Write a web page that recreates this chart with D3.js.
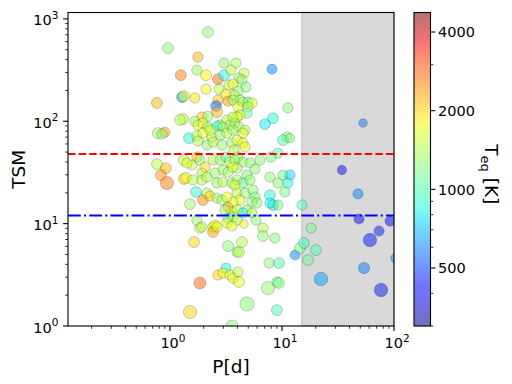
<!DOCTYPE html>
<html lang="en">
<head>
  <meta charset="UTF-8">
  <title>TSM vs period</title>
  <script src="https://d3js.org/d3.v7.min.js"></script>
  <style>
    body { margin: 0; padding: 0; background: #fff; }
    svg text { font-family: "DejaVu Sans", sans-serif; fill: #000; }
  </style>
</head>
<body>
  <svg id="chart" width="512" height="384"></svg>

  <script>
    // Data
    const period = [
      0.96,1.25,0.765,1.28,1.33,1.67,1.78,1.74,1.31,1.23,
      0.78,0.90,0.85,1.48,0.765,0.92,0.83,0.94,1.33,1.39,
      1.6,1.57,1.33,1.42,1.71,1.51,1.74,1.85,1.64,1.85,
      1.51,2.18,2.1,2.68,3.04,3.04,3.88,3.5,4.58,4.13,
      4.39,4.77,8.14,11.3,8.31,7.05,2.1,2.74,3.36,3.65,
      4.05,3.73,3.16,2.68,2.58,3.3,3.65,4.22,4.49,4.97,
      5.4,4.05,4.97,4.87,4.22,3.97,2.63,1.93,2.18,1.67,
      1.78,2.8,3.23,3.43,2.63,1.97,2.18,2.97,3.8,3.65,
      4.13,4.67,4.49,11.1,10.2,11.8,1.74,1.97,2.37,2.8,
      3.23,2.28,3.65,1.78,2.14,2.42,2.91,3.58,3.97,4.49,
      4.67,3.73,4.05,4.49,1.74,1.85,2.05,2.42,2.8,3.16,
      3.43,3.8,2.97,2.52,3.3,3.97,3.65,4.87,1.93,1.93,
      2.14,2.63,2.97,3.58,3.97,4.49,3.8,3.97,4.67,4.22,
      3.65,1.97,2.14,2.28,2.63,2.91,3.23,3.3,3.58,3.97,
      3.1,1.93,2.42,3.65,3.3,7.98,9.21,6.36,5.18,5.18,
      5.51,5.74,5.4,7.81,9.21,10.2,11.8,11.3,10.6,7.81,
      8.31,9.21,7.81,15.1,4.87,4.49,5.4,5.74,5.98,2.52,
      3.23,3.97,2.42,2.63,3.58,4.58,5.86,6.77,6.77,8.66,
      3.3,4.39,3.97,4.13,13.1,14.5,15.7,17.1,7.66,9.4,
      3.16,2.68,2.97,3.43,3.65,4.05,4.13,7.5,9.02,9.4,
      4.87,9.02,3.58,52.9,34.3,47.7,48.7,92.1,18.2,20.1,
      61,73.5,104,54,22.3,76.6
    ];
    const tsm = [
      519,282,151,172,176,169,424,316,105,103,
      76.7,78,75,68.5,38.2,34.9,29.8,24.9,27.3,27.9,
      26.7,37.4,41.8,39.1,20.4,15.5,10.8,9.06,6.61,2.63,
      1.37,743,282,258,282,370,370,316,296,264,
      253,216,323,135,107,93.9,206,206,226,231,
      197,180,184,161,141,157,161,161,154,154,
      151,138,138,120,115,110,123,110,112,100,
      91.8,91.8,103,91.8,89.8,96,87.8,87.8,96,110,
      87.8,82,76.7,70.1,65.5,68.5,71.7,76.7,70.1,73.3,
      76.7,82,82,64.1,58.6,62.6,58.6,61.2,65.5,61.2,
      56,52.3,44.7,40,44.7,41.8,35.7,41.8,41.8,44.7,
      40,41.8,33.4,31.2,31.9,34.9,35.7,29.8,31.2,26.7,
      28.5,24.9,25.5,24.9,26.7,24.9,23.8,19.9,19.9,17,
      16.3,17,19.9,18.6,17.8,17,18.2,14.5,13,13.6,
      13.6,9.27,9.27,11.6,11.3,44.7,48.9,41.8,39.1,26.7,
      21.3,18.2,16.3,28.5,24.9,29.8,29.8,24.9,20.4,19,
      15.2,15.2,15.9,15.2,13.6,12.7,12.7,34.1,15.9,9.69,
      10.1,10.8,8.28,9.27,9.48,9.91,10.8,9.06,7.57,7.23,
      6.04,6.61,5.28,5.28,4.94,5.78,6.47,4.41,4.12,4.12,
      3.68,3.15,3.29,3.15,2.94,3.37,2.69,2.35,2.69,2.63,
      1.64,1.43,1.0,96,33.4,19.5,11.1,10.6,9.06,5.52,
      6.92,8.47,4.61,3.68,2.88,2.25
    ];
    const teq = [
      1200,2600,2200,650,1700,1900,2200,1300,1450,1450,
      1300,2300,1250,850,1450,2200,2400,2600,2000,1750,
      1450,1450,1450,1700,900,1300,1300,1450,2000,2800,
      2000,1250,1800,2700,850,1250,1400,1500,1500,1300,
      1300,1200,600,1250,850,800,1800,1500,1450,1700,
      1300,1450,1900,2100,550,2300,1300,1300,1450,1000,
      1700,1700,1450,1100,1700,1700,2200,2100,1250,1250,
      1700,1300,1450,1450,850,1700,1250,1300,1300,1450,
      1450,1300,1700,1200,1000,1250,1450,1700,1450,1300,
      1450,1700,1300,1450,1250,1450,1300,1300,1700,1700,
      1700,1450,1300,1300,2200,1300,1900,1450,1300,1050,
      1450,1300,1300,1300,1300,1300,1700,1250,1450,1450,
      1450,1300,1450,1300,1300,1100,1700,1450,1300,1700,
      1700,2500,1450,2000,1300,1300,1700,2300,1750,1450,
      1300,1450,1700,1300,1050,1150,1050,1250,1250,1250,
      1250,1200,1250,1250,1250,1150,750,850,1150,850,
      750,1150,850,950,1250,850,1450,1250,1250,1700,
      1700,1450,2300,1700,1700,1700,1250,1450,1250,1200,
      1250,1450,1300,1450,600,1150,950,1100,1250,1000,
      850,2000,1750,1700,1700,1450,1700,1250,1000,1250,
      1200,1000,1250,600,420,600,420,430,1150,1000,
      450,450,600,600,650,450
    ];
    const rp = [
      2.3,2.3,2.3,2.3,2.3,2,2,2,2.3,2.3,
      2.3,2,2,2.3,2.3,2.3,2.3,3.3,2.3,2.3,
      2,2,2.3,2,2.3,2.3,2,2,2.3,2.8,
      3.3,2.3,2.3,2.3,2.3,2,2,2,2,2,
      2,2,2,2,2.3,2.3,2,2,2,2,
      2,2,2,2,2.3,2,2,2,2,2,
      2,2,2,2,2,2,2.3,2,2,2,
      2,2,2,2,2,2,2,2,2,2,
      2,2,2,2,2.3,1.6,2,2,2,2,
      2,2,2,2,2,2,2,2,2,2,
      2,2,2,2,2,2,2,2,2,2,
      2,2,2,2,2,2,2,2,2,2,
      2,2,2,2,2,2,2,2,2,2,
      2,2.3,2,2,2,2,2,2,2,2,
      2,2,2,2,2,2,2,2,2,2,
      2,2,2,2,2,2,2,2,2,2.3,
      2.3,2,2,2,2,2,2,2,2,2,
      2,2,2.3,2,2,1.2,2,2,2.3,2,
      2.3,2.3,2,2.3,2,2.3,2.3,2.3,2,2.3,
      2,2,2,2,2,2,2.3,3.3,2,2.3,
      3.8,2.3,2.8,1.2,1.6,2,2,2,2,2.3,
      3.5,2,2,2.5,3.5,3.5
    ];
    const xMajor = [1, 10, 100];
    const yMajor = [1, 10, 100, 1000];
    const cbarMajor = [500, 1000, 2000, 4000];
    const tsmHigh = 48;   // red dashed
    const tsmLow = 12;    // blue dash-dot
    const spanStart = 15; // shaded period range

    const points = period.map((p, i) => ({p, tsm: tsm[i], teq: teq[i], rp: rp[i]}));

    const svg = d3.select("#chart");
    const plot = {left: 68, right: 394, top: 12.5, bottom: 326};
    const cb = {left: 414, right: 430.5, top: 12.5, bottom: 326};

    const x = d3.scaleLog().domain([0.123, 100]).range([plot.left, plot.right]);
    const y = d3.scaleLog().domain([1, 1155]).range([plot.bottom, plot.top]);
    const cNorm = d3.scaleLog().domain([300, 4750]).range([0, 1]).clamp(true);
    const cY = d3.scaleLog().domain([300, 4750]).range([cb.bottom, cb.top]);
    const r = d3.scaleLinear().domain([1, 4]).range([4, 7.3]);

    // matplotlib jet
    const jetR = d3.scaleLinear().domain([0, 0.35, 0.66, 0.89, 1]).range([0, 0, 1, 1, 0.5]).clamp(true);
    const jetG = d3.scaleLinear().domain([0, 0.125, 0.375, 0.64, 0.91, 1]).range([0, 0, 1, 1, 0, 0]).clamp(true);
    const jetB = d3.scaleLinear().domain([0, 0.11, 0.34, 0.65, 1]).range([0.5, 1, 1, 0, 0]).clamp(true);
    const jet = t => d3.rgb(jetR(t) * 255, jetG(t) * 255, jetB(t) * 255).formatHex();

    svg.append("defs").append("clipPath").attr("id", "clip")
      .append("rect")
      .attr("x", plot.left).attr("y", plot.top)
      .attr("width", plot.right - plot.left).attr("height", plot.bottom - plot.top);

    // shaded span
    svg.append("rect")
      .attr("x", x(spanStart)).attr("y", plot.top)
      .attr("width", plot.right - x(spanStart)).attr("height", plot.bottom - plot.top)
      .attr("fill", "#808080").attr("fill-opacity", 0.3)
      .attr("stroke", "#808080").attr("stroke-opacity", 0.3).attr("stroke-width", 1.3);

    // points
    svg.append("g").attr("clip-path", "url(#clip)")
      .selectAll("circle")
      .data(points)
      .join("circle")
      .attr("cx", d => x(d.p))
      .attr("cy", d => y(d.tsm))
      .attr("r", d => r(d.rp))
      .attr("fill", d => jet(cNorm(d.teq)))
      .attr("fill-opacity", 0.5)
      .attr("stroke", "#000")
      .attr("stroke-opacity", 0.35)
      .attr("stroke-width", 0.6);

    // threshold lines
    svg.append("line")
      .attr("x1", plot.left).attr("x2", plot.right)
      .attr("y1", y(tsmHigh)).attr("y2", y(tsmHigh))
      .attr("stroke", "red").attr("stroke-width", 2)
      .attr("stroke-dasharray", "7.4,3.2");
    svg.append("line")
      .attr("x1", plot.left).attr("x2", plot.right)
      .attr("y1", y(tsmLow)).attr("y2", y(tsmLow))
      .attr("stroke", "blue").attr("stroke-width", 2)
      .attr("stroke-dasharray", "12.8,3.2,2,3.2");

    // frame
    svg.append("rect")
      .attr("x", plot.left).attr("y", plot.top)
      .attr("width", plot.right - plot.left).attr("height", plot.bottom - plot.top)
      .attr("fill", "none").attr("stroke", "#000").attr("stroke-width", 1.1);

    const isMajor = v => Math.abs(Math.log10(v) - Math.round(Math.log10(v))) < 1e-9;

    function powLabel(sel, d) {
      sel.text(null);
      sel.append("tspan").text("10");
      sel.append("tspan").attr("dy", -6.5).attr("font-size", 10.5).text(Math.round(Math.log10(d)));
    }

    // x axis
    const gx = svg.append("g");
    gx.selectAll("line.minor")
      .data(x.ticks().filter(v => !isMajor(v) && v >= x.domain()[0]))
      .join("line")
      .attr("x1", d => x(d)).attr("x2", d => x(d))
      .attr("y1", plot.bottom).attr("y2", plot.bottom + 2.8)
      .attr("stroke", "#000").attr("stroke-width", 0.8);
    gx.selectAll("line.major")
      .data(xMajor)
      .join("line")
      .attr("x1", d => x(d)).attr("x2", d => x(d))
      .attr("y1", plot.bottom).attr("y2", plot.bottom + 4.9)
      .attr("stroke", "#000").attr("stroke-width", 1.1);
    gx.selectAll("text")
      .data(xMajor)
      .join("text")
      .attr("x", d => x(d) + 3)
      .attr("y", 348)
      .attr("text-anchor", "middle")
      .attr("font-size", 14.5)
      .each(function(d) { powLabel(d3.select(this), d); });

    // y axis
    const gy = svg.append("g");
    gy.selectAll("line.minor")
      .data(y.ticks().filter(v => !isMajor(v)))
      .join("line")
      .attr("x1", plot.left - 2.8).attr("x2", plot.left)
      .attr("y1", d => y(d)).attr("y2", d => y(d))
      .attr("stroke", "#000").attr("stroke-width", 0.8);
    gy.selectAll("line.major")
      .data(yMajor)
      .join("line")
      .attr("x1", plot.left - 4.9).attr("x2", plot.left)
      .attr("y1", d => y(d)).attr("y2", d => y(d))
      .attr("stroke", "#000").attr("stroke-width", 1.1);
    gy.selectAll("text")
      .data(yMajor)
      .join("text")
      .attr("x", 58.5)
      .attr("y", d => y(d) + 6.5)
      .attr("text-anchor", "end")
      .attr("font-size", 14.5)
      .each(function(d) { powLabel(d3.select(this), d); });

    // axis labels
    svg.append("text")
      .attr("x", (plot.left + plot.right) / 2).attr("y", 373)
      .attr("text-anchor", "middle").attr("font-size", 18.5)
      .text("P[d]");
    svg.append("text")
      .attr("transform", `translate(25,${(plot.top + plot.bottom) / 2}) rotate(-90)`)
      .attr("text-anchor", "middle").attr("font-size", 18.5)
      .text("TSM");

    // colorbar
    const gc = svg.append("g");
    gc.selectAll("rect.strip")
      .data(d3.range(Math.floor(cb.top), Math.ceil(cb.bottom)))
      .join("rect")
      .attr("x", cb.left).attr("y", d => d)
      .attr("width", cb.right - cb.left).attr("height", 1.2)
      .attr("fill", d => jet(cNorm(cY.invert(d + 0.5))))
      .attr("fill-opacity", 0.5);
    gc.append("rect")
      .attr("x", cb.left).attr("y", cb.top)
      .attr("width", cb.right - cb.left).attr("height", cb.bottom - cb.top)
      .attr("fill", "none").attr("stroke", "#000").attr("stroke-width", 1.1);
    gc.selectAll("line.minor")
      .data(cY.ticks().filter(v => !cbarMajor.includes(v)))
      .join("line")
      .attr("x1", cb.right).attr("x2", cb.right + 2.8)
      .attr("y1", d => cY(d)).attr("y2", d => cY(d))
      .attr("stroke", "#000").attr("stroke-width", 0.8);
    gc.selectAll("line.major")
      .data(cbarMajor)
      .join("line")
      .attr("x1", cb.right).attr("x2", cb.right + 4.9)
      .attr("y1", d => cY(d)).attr("y2", d => cY(d))
      .attr("stroke", "#000").attr("stroke-width", 1.1);
    gc.selectAll("text")
      .data(cbarMajor)
      .join("text")
      .attr("x", 438).attr("y", d => cY(d) + 5.2)
      .attr("font-size", 14.5)
      .text(d => d);

    const cl = svg.append("text")
      .attr("transform", `translate(485,${(cb.top + cb.bottom) / 2 + 5}) rotate(90)`)
      .attr("text-anchor", "middle").attr("font-size", 18.5);
    cl.append("tspan").text("T");
    cl.append("tspan").attr("font-size", 13).attr("dy", 4).text("eq");
    cl.append("tspan").attr("dy", -4).text(" [K]");
  </script>
</body>
</html>
